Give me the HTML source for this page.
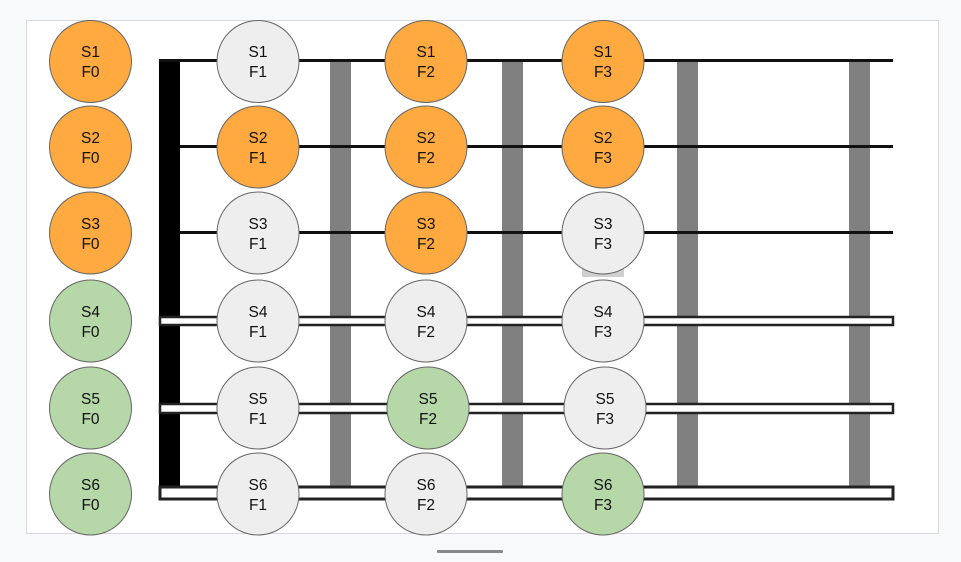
<!DOCTYPE html>
<html><head><style>
html,body{margin:0;padding:0;background:#f8f9fb;}
svg{display:block;}
text{font-family:"Liberation Sans",sans-serif;font-size:15.5px;fill:#111;text-anchor:middle;}
</style></head><body>
<svg width="961" height="562" viewBox="0 0 961 562">
<rect x="26.5" y="20.5" width="912" height="513" fill="#fff" stroke="#d8d8dc"/>
<rect x="437" y="550" width="66" height="3" fill="#888" rx="1"/>
<!-- nut -->
<rect x="159" y="59" width="21" height="441" fill="#000"/>
<!-- frets -->
<g fill="#808080">
<rect x="330" y="61" width="21" height="425"/>
<rect x="502" y="61" width="21" height="425"/>
<rect x="677" y="61" width="21" height="425"/>
<rect x="849" y="61" width="21" height="425"/>
</g>
<rect x="582" y="255" width="42" height="22" fill="#d0d0d0"/>
<!-- strings -->
<g fill="#111">
<rect x="159" y="59" width="734" height="3"/>
<rect x="180" y="145" width="713" height="3"/>
<rect x="180" y="231" width="713" height="3"/>
</g>
<rect x="160" y="317" width="733" height="8" fill="#fff" stroke="#222" stroke-width="2.5"/>
<rect x="160" y="404" width="733" height="9" fill="#fff" stroke="#222" stroke-width="2.5"/>
<rect x="160" y="487" width="733" height="12" fill="#fff" stroke="#222" stroke-width="3"/>
<!-- circles -->
<g stroke="#666" stroke-width="1">
<circle cx="90.5" cy="61.5" r="41" fill="#ffaa40"/>
<circle cx="90.5" cy="147" r="41" fill="#ffaa40"/>
<circle cx="90.5" cy="233" r="41" fill="#ffaa40"/>
<circle cx="90.5" cy="321" r="41" fill="#b6d7a8"/>
<circle cx="90.5" cy="408" r="41" fill="#b6d7a8"/>
<circle cx="90.5" cy="494" r="41" fill="#b6d7a8"/>
<circle cx="258" cy="61.5" r="41" fill="#eeeeee"/>
<circle cx="258" cy="147" r="41" fill="#ffaa40"/>
<circle cx="258" cy="233" r="41" fill="#eeeeee"/>
<circle cx="258" cy="321" r="41" fill="#eeeeee"/>
<circle cx="258" cy="408" r="41" fill="#eeeeee"/>
<circle cx="258" cy="494" r="41" fill="#eeeeee"/>
<circle cx="426" cy="61.5" r="41" fill="#ffaa40"/>
<circle cx="426" cy="147" r="41" fill="#ffaa40"/>
<circle cx="426" cy="233" r="41" fill="#ffaa40"/>
<circle cx="426" cy="321" r="41" fill="#eeeeee"/>
<circle cx="428" cy="408" r="41" fill="#b6d7a8"/>
<circle cx="426" cy="494" r="41" fill="#eeeeee"/>
<circle cx="603" cy="61.5" r="41" fill="#ffaa40"/>
<circle cx="603" cy="147" r="41" fill="#ffaa40"/>
<circle cx="603" cy="233" r="41" fill="#eeeeee"/>
<circle cx="603" cy="321" r="41" fill="#eeeeee"/>
<circle cx="605" cy="408" r="41" fill="#eeeeee"/>
<circle cx="603" cy="494" r="41" fill="#b6d7a8"/>
</g>
<g>
<text x="90.5" y="57">S1</text><text x="90.5" y="77">F0</text>
<text x="90.5" y="143">S2</text><text x="90.5" y="163">F0</text>
<text x="90.5" y="229">S3</text><text x="90.5" y="249">F0</text>
<text x="90.5" y="317">S4</text><text x="90.5" y="337">F0</text>
<text x="90.5" y="404">S5</text><text x="90.5" y="424">F0</text>
<text x="90.5" y="490">S6</text><text x="90.5" y="510">F0</text>
<text x="258" y="57">S1</text><text x="258" y="77">F1</text>
<text x="258" y="143">S2</text><text x="258" y="163">F1</text>
<text x="258" y="229">S3</text><text x="258" y="249">F1</text>
<text x="258" y="317">S4</text><text x="258" y="337">F1</text>
<text x="258" y="404">S5</text><text x="258" y="424">F1</text>
<text x="258" y="490">S6</text><text x="258" y="510">F1</text>
<text x="426" y="57">S1</text><text x="426" y="77">F2</text>
<text x="426" y="143">S2</text><text x="426" y="163">F2</text>
<text x="426" y="229">S3</text><text x="426" y="249">F2</text>
<text x="426" y="317">S4</text><text x="426" y="337">F2</text>
<text x="428" y="404">S5</text><text x="428" y="424">F2</text>
<text x="426" y="490">S6</text><text x="426" y="510">F2</text>
<text x="603" y="57">S1</text><text x="603" y="77">F3</text>
<text x="603" y="143">S2</text><text x="603" y="163">F3</text>
<text x="603" y="229">S3</text><text x="603" y="249">F3</text>
<text x="603" y="317">S4</text><text x="603" y="337">F3</text>
<text x="605" y="404">S5</text><text x="605" y="424">F3</text>
<text x="603" y="490">S6</text><text x="603" y="510">F3</text>
</g>
</svg>
</body></html>
